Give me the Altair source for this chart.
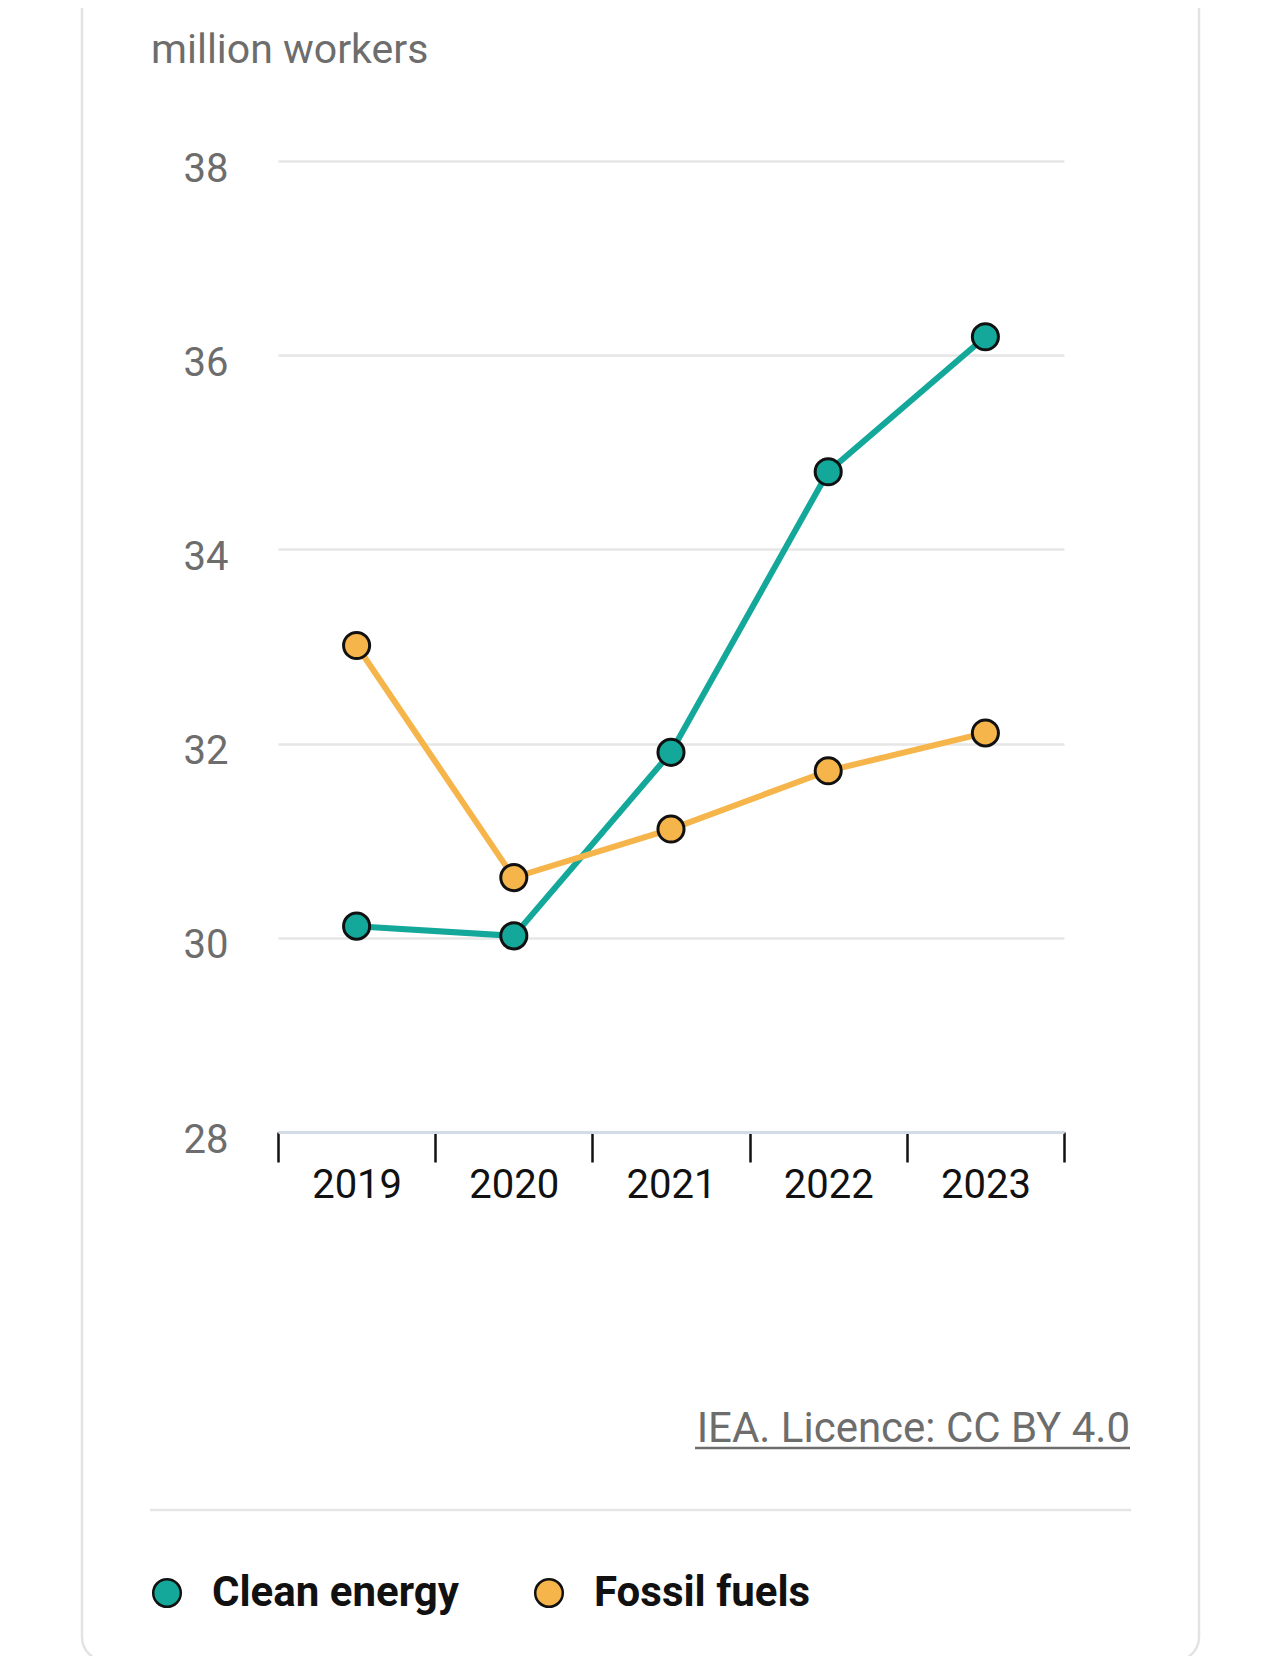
import altair as alt
import pandas as pd

years = ["2019", "2020", "2021", "2022", "2023"]
clean_energy = [30.12, 30.02, 31.91, 34.80, 36.19]
fossil_fuels = [33.01, 30.62, 31.12, 31.72, 32.11]
series_names = ["Clean energy", "Fossil fuels"]
series_colors = ["#14a89b", "#f6b54b"]
y_ticks = [28, 30, 32, 34, 36, 38]
unit_label = "million workers"
credit = "IEA. Licence: CC BY 4.0"

FONT = "Roboto"

rows = []
for y, c, f in zip(years, clean_energy, fossil_fuels):
    rows.append({"year": y, "series": series_names[0], "value": c})
    rows.append({"year": y, "series": series_names[1], "value": f})
df = pd.DataFrame(rows)

x_enc = alt.X(
    "year:O",
    scale=alt.Scale(type="band", paddingInner=0, paddingOuter=0),
    axis=alt.Axis(
        title=None,
        labelAngle=0,
        labelFont=FONT,
        labelFontSize=40,
        labelColor="#111111",
        labelPadding=3,
        domainColor="#d3dbe6",
        domainWidth=3,
        tickColor="#111111",
        tickWidth=2.5,
        tickSize=30,
        tickBand="extent",
        grid=False,
    ),
)
y_enc = alt.Y(
    "value:Q",
    scale=alt.Scale(domain=[28, 38], nice=False, zero=False),
    axis=alt.Axis(
        title=None,
        values=y_ticks,
        labelFont=FONT,
        labelFontSize=40,
        labelColor="#6d6d6d",
        labelPadding=50,
        labelOffset=8,
        domain=False,
        ticks=False,
        grid=True,
        gridColor="#e6e6e6",
        gridWidth=2.5,
    ),
)
color_scale = alt.Scale(domain=series_names, range=series_colors)

base = alt.Chart(df)

lines = base.mark_line(strokeWidth=6).encode(
    x=x_enc,
    y=y_enc,
    stroke=alt.Stroke("series:N", scale=color_scale, legend=None),
    detail="series:N",
)

points = base.mark_point(
    filled=True, size=680, stroke="#111111", strokeWidth=3, opacity=1
).encode(
    x=x_enc,
    y=y_enc,
    color=alt.Color(
        "series:N",
        scale=color_scale,
        legend=alt.Legend(
            title=None,
            orient="none",
            direction="horizontal",
            legendX=-132,
            legendY=1411,
            padding=0,
            symbolType="circle",
            symbolSize=760,
            symbolStrokeColor="#111111",
            symbolStrokeWidth=2.5,
            symbolOpacity=1,
            labelFont=FONT,
            labelFontSize=42,
            labelFontWeight="bold",
            labelColor="#111111",
            labelOffset=24,
            columnPadding=69,
            labelLimit=600,
        ),
    ),
)

dummy = pd.DataFrame({"t": [unit_label]})

card = alt.Chart(dummy).mark_rect(
    fillOpacity=0, stroke="#e3e3e3", strokeWidth=2.5, cornerRadius=24
).encode(
    x=alt.value(-196), x2=alt.value(921), y=alt.value(-300), y2=alt.value(1500)
)

title = alt.Chart(dummy).mark_text(
    font=FONT, fontSize=41, color="#6d6d6d", align="left", baseline="middle"
).encode(text="t:N", x=alt.value(-127), y=alt.value(-110))

credit_df = pd.DataFrame({"t": [credit]})
credit_text = alt.Chart(credit_df).mark_text(
    font=FONT, fontSize=42, color="#6d6d6d", align="right", baseline="alphabetic"
).encode(text="t:N", x=alt.value(852), y=alt.value(1281))
credit_line = alt.Chart(credit_df).mark_rule(color="#6d6d6d", strokeWidth=2.5).encode(
    x=alt.value(417), x2=alt.value(852), y=alt.value(1287)
)

separator = alt.Chart(dummy).mark_rule(color="#e5e5e5", strokeWidth=2.5).encode(
    x=alt.value(-128), x2=alt.value(853), y=alt.value(1349)
)

chart = (
    alt.layer(card, title, lines, points, credit_text, credit_line, separator)
    .properties(
        width=786,
        height=971,
        padding={"left": 270, "top": 153, "right": 208, "bottom": 524},
        autosize=alt.AutoSizeParams(type="none"),
        background="white",
    )
    .resolve_scale(color="independent", stroke="independent")
    .configure_view(stroke=None)
)

chart.save("out.html", embed_options={"renderer": "svg", "actions": False})
